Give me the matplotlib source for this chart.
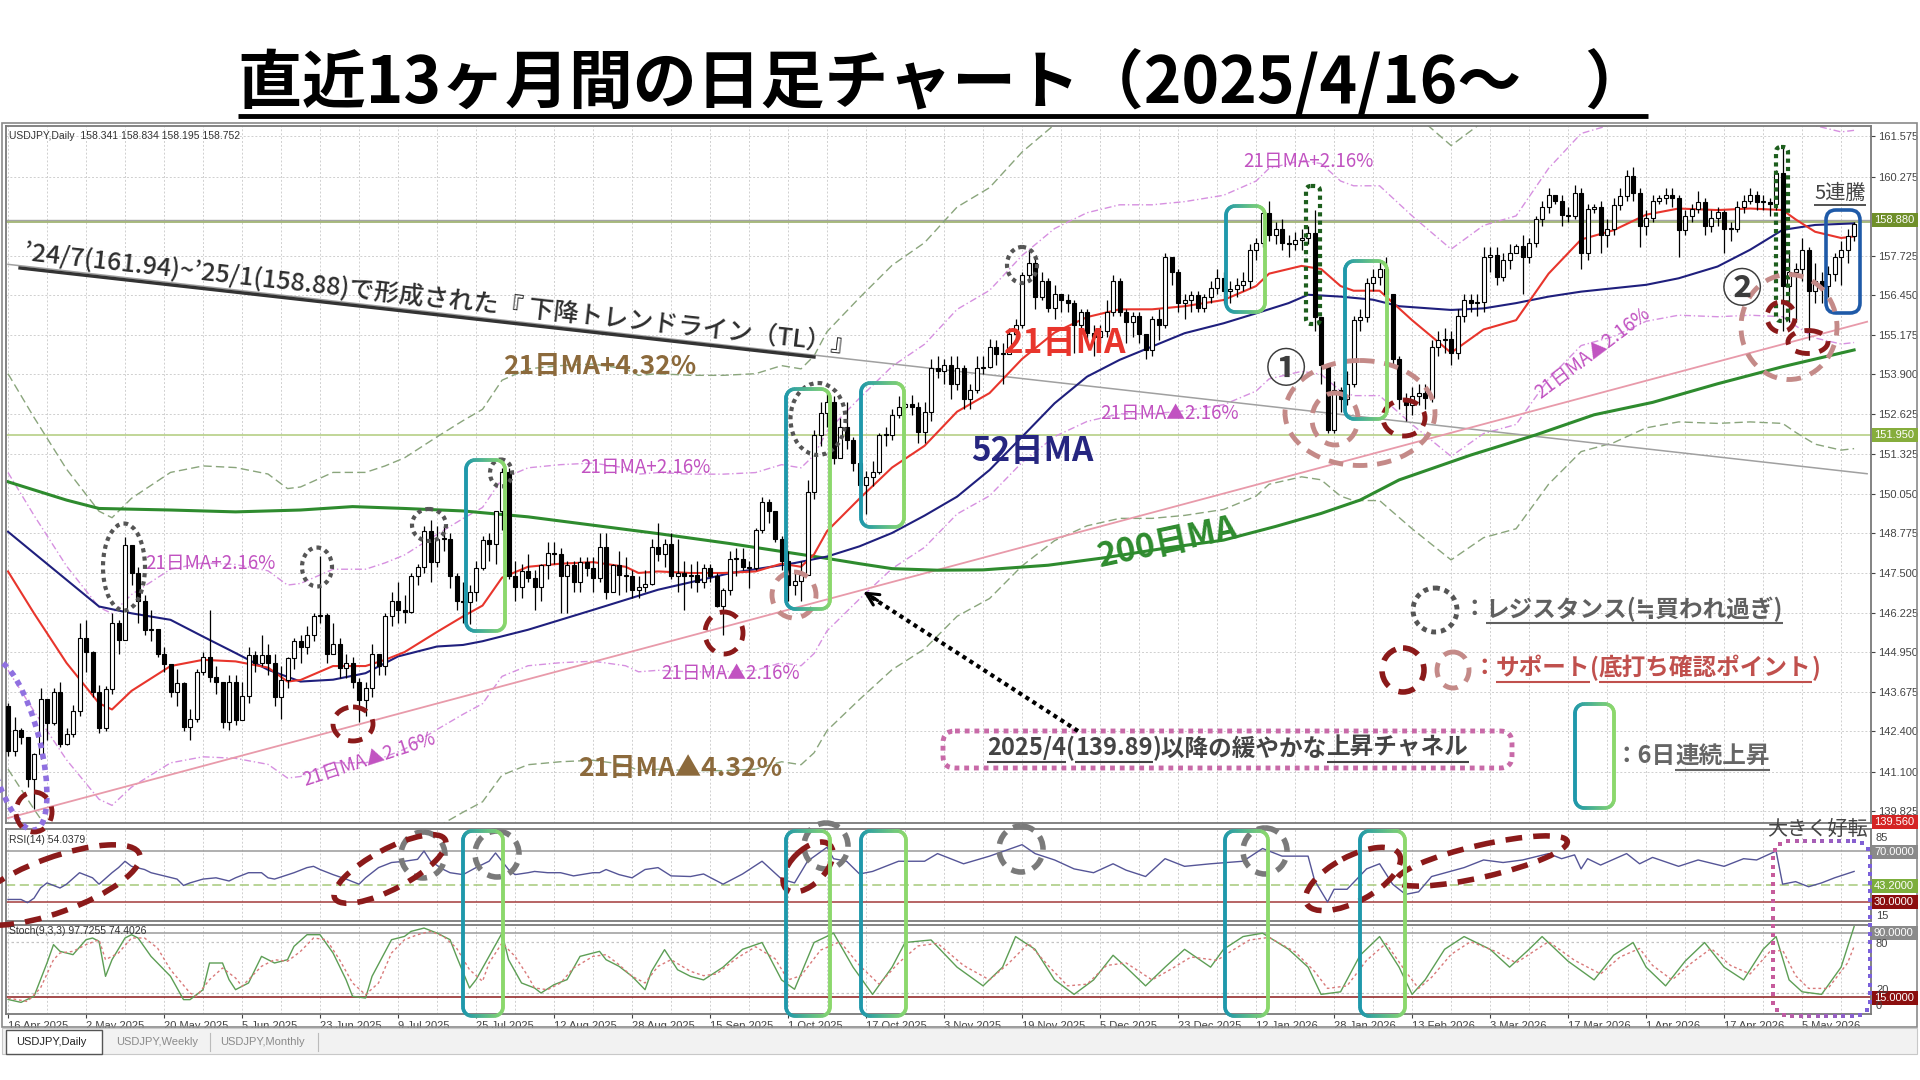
import numpy as np
import matplotlib
matplotlib.use("Agg")
import matplotlib.pyplot as plt
from matplotlib.patches import Ellipse, FancyBboxPatch, Rectangle
from matplotlib.collections import LineCollection
from matplotlib.colors import to_rgb

plt.rcParams['font.family'] = ['Noto Sans CJK JP', 'DejaVu Sans']

# ---------------- data (USDJPY daily) ----------------
OPEN_FIRST = 143.2
CLOSE = [
    141.75, 142.45, 142.2, 140.85, 141.65, 143.45, 142.65, 143.65, 142.0, 142.3, 143.05, 145.4,
    144.95, 143.65, 142.5, 143.75, 145.9, 145.35, 148.4, 147.5, 146.6, 145.65, 145.7, 144.9,
    144.55, 143.65, 143.95, 142.55, 142.8, 144.3, 144.8, 144.15, 144.0, 142.7, 144.0, 142.75,
    143.55, 144.85, 144.6, 144.85, 144.6, 143.5, 144.05, 144.75, 145.3, 145.1, 145.5, 146.1,
    146.15, 144.9, 145.2, 144.45, 144.6, 144.0, 143.4, 143.8, 144.9, 144.5, 146.1, 146.6,
    146.3, 146.25, 147.4, 147.7, 148.85, 147.85, 148.6, 148.6, 147.4, 146.6, 146.55, 146.9,
    147.65, 148.55, 148.45, 149.5, 150.75, 147.4, 147.05, 147.55, 147.35, 147.05, 147.75, 148.15,
    148.1, 147.4, 147.75, 147.2, 147.85, 147.65, 147.35, 148.35, 146.9, 147.75, 147.45, 147.4,
    146.95, 147.05, 147.15, 148.35, 148.1, 148.45, 147.4, 147.5, 147.4, 147.45, 147.2, 147.65,
    147.4, 146.45, 146.95, 147.95, 147.95, 147.7, 147.65, 148.9, 149.8, 149.5, 148.6, 147.9,
    147.1, 147.25, 147.45, 150.1, 151.95, 152.65, 153.0, 151.2, 152.2, 151.8, 151.05, 150.35,
    150.6, 150.75, 151.95, 151.95, 152.6, 152.85, 152.95, 152.85, 152.05, 152.7, 154.1, 154.0,
    154.2, 153.6, 154.1, 153.1, 153.4, 154.1, 154.15, 154.8, 154.55, 154.55, 155.2, 155.5,
    157.1, 157.5, 156.4, 156.9, 156.05, 156.5, 156.3, 156.2, 155.5, 155.9, 155.25, 155.1,
    155.3, 155.9, 156.9, 155.9, 155.6, 155.8, 155.2, 154.7, 155.7, 155.5, 157.7, 157.2,
    156.2, 156.3, 156.45, 156.05, 156.4, 156.7, 157.0, 156.6, 156.65, 156.8, 156.9, 157.9,
    158.15, 159.1, 158.4, 158.6, 158.15, 158.1, 158.25, 158.3, 158.45, 155.75, 154.2, 152.1,
    153.4, 153.1, 153.6, 155.65, 155.75, 156.85, 157.05, 157.3, 156.5, 154.4, 153.1, 152.9,
    153.2, 153.3, 153.15, 154.8, 155.0, 155.05, 154.6, 155.8, 156.3, 156.2, 156.25, 157.7,
    157.75, 157.05, 157.6, 157.8, 158.05, 157.7, 158.15, 158.9, 159.3, 159.7, 159.5, 159.05,
    159.0, 159.75, 157.8, 159.25, 159.3, 158.4, 158.6, 159.35, 159.65, 160.3, 159.75, 158.7,
    158.95, 159.5, 159.6, 159.7, 159.6, 158.55, 159.0, 159.25, 159.45, 158.7, 158.95, 159.15,
    158.6, 158.6, 159.3, 159.5, 159.7, 159.45, 159.45, 159.4, 160.4, 156.75, 157.2, 157.3,
    157.9, 156.6, 156.9, 156.75, 157.15, 157.7, 157.9, 158.35, 158.75,
]
HIGH = [
    143.3, 142.85, 142.5, 142.2, 141.7, 143.8, 143.4, 143.8, 144.0, 142.5, 143.25, 145.9,
    146.0, 145.0, 143.9, 143.85, 146.2, 146.0, 148.65, 148.3, 147.7, 146.8, 146.3, 145.6,
    145.1, 144.5, 144.4, 144.0, 143.1, 144.4, 144.95, 146.3, 144.5, 143.9, 144.2, 144.2,
    144.0, 145.1, 145.0, 145.5, 145.2, 144.9, 144.5, 144.8, 145.4, 145.5, 145.8, 146.2,
    148.05, 146.2, 145.9, 145.4, 144.9, 144.8, 144.1, 144.0, 145.2, 144.9, 146.2, 146.9,
    147.2, 146.8, 147.5, 147.8, 149.0, 149.2, 149.0, 149.0, 148.8, 147.5, 147.2, 147.1,
    147.9, 148.7, 148.8, 149.5, 150.9, 150.9, 147.9, 147.8, 148.1, 147.6, 147.8, 148.5,
    148.5, 148.3, 147.9, 147.9, 148.0, 148.0, 148.0, 148.8, 148.8, 147.8, 148.2, 148.0,
    147.6, 147.4, 147.6, 148.6, 149.1, 148.6, 148.8, 148.6, 147.9, 147.8, 147.9, 147.8,
    147.8, 147.5, 147.0, 148.2, 148.3, 148.3, 147.9, 148.95, 149.95, 149.9, 149.5, 148.7,
    148.2, 147.6, 147.9, 150.5, 152.1, 153.0, 153.3, 153.2, 152.5, 153.0, 151.9, 151.2,
    150.8, 151.1, 152.0, 152.2, 152.8, 153.2, 153.0, 153.25, 153.0, 153.0, 154.4, 154.5,
    154.4, 154.5, 154.5, 154.2, 153.6, 154.5, 154.5, 155.05, 155.0, 154.9, 155.4, 155.7,
    157.2, 157.9, 157.7, 157.2, 157.0, 156.8, 156.5, 156.5, 156.3, 156.0, 156.0, 155.5,
    155.5, 156.3, 157.1, 157.0, 156.0, 155.9, 155.9, 155.2, 155.8, 156.0, 157.8, 157.7,
    157.3, 156.5, 156.6, 156.6, 156.5, 156.9, 157.3, 157.2, 156.9, 157.0, 157.2, 158.1,
    158.3, 159.2, 159.5, 158.8, 158.9, 158.4, 158.5, 158.6, 158.7, 159.2, 155.0, 154.2,
    153.7, 153.5, 154.0, 155.8, 156.0, 157.0, 157.3, 157.6, 157.7, 156.5, 154.5, 153.3,
    153.5, 153.6, 153.6, 155.0, 155.3, 155.4, 155.3, 156.0, 156.5, 156.5, 156.5, 158.0,
    158.0, 158.0, 157.8, 158.1, 158.1, 158.4, 158.3, 159.0, 159.5, 159.9, 159.7, 159.7,
    159.3, 160.0, 159.9, 159.4, 159.4, 159.5, 158.9, 159.6, 159.9, 160.5, 160.6, 159.9,
    159.2, 159.7, 159.7, 159.9, 159.9, 159.7, 159.2, 159.4, 159.8, 159.6, 159.2, 159.3,
    159.2, 158.8, 159.5, 159.7, 159.9, 159.8, 159.7, 159.6, 160.5, 161.25, 157.9, 157.5,
    158.3, 158.0, 157.5, 157.2, 157.4, 157.8, 158.2, 158.6, 158.83,
]
LOW = [
    141.6, 141.6, 142.0, 140.6, 139.9, 141.5, 142.1, 142.6, 141.9, 141.95, 142.2, 142.9,
    144.3, 143.5, 142.35, 142.4, 143.6, 144.9, 145.4, 147.1, 145.9, 145.5, 145.3, 144.8,
    144.3, 143.5, 143.2, 142.4, 142.1, 142.7, 144.2, 144.0, 143.6, 142.5, 142.45, 142.6,
    142.85, 143.3, 144.3, 144.5, 144.2, 143.2, 142.8, 143.8, 144.4, 144.6, 144.9, 145.3,
    145.9, 144.6, 144.9, 144.1, 144.1, 143.8, 142.7, 142.9, 143.5, 144.2, 144.2, 145.8,
    145.9, 145.9, 146.2, 147.1, 147.5, 147.2, 147.7, 148.2, 147.0, 146.3, 145.9, 145.85,
    146.6, 147.6, 147.9, 147.8, 148.9, 147.3, 146.6, 146.7, 147.2, 146.3, 146.6, 147.3,
    147.8, 146.2, 146.2, 146.9, 146.9, 147.4, 146.9, 147.2, 146.65, 146.9, 146.8, 146.9,
    146.7, 146.7, 146.9, 147.1, 147.9, 147.7, 147.3, 146.9, 146.3, 147.0, 146.9, 147.0,
    147.2, 146.4, 145.5, 146.8, 147.4, 147.6, 147.0, 147.6, 148.8, 149.1, 148.5, 147.6,
    146.6, 146.8, 146.6, 149.0, 149.9, 151.6, 152.2, 151.0, 151.5, 151.5, 150.8, 150.3,
    149.4, 150.3, 150.7, 151.6, 151.8, 152.5, 152.8, 152.6, 151.7, 151.7, 152.4, 153.8,
    153.6, 153.1, 153.4, 152.8, 152.8, 153.3, 153.9, 154.1, 154.2, 153.6, 154.6, 154.9,
    155.4, 156.9, 156.0, 156.3, 155.9, 155.7, 155.9, 155.9, 154.6, 155.2, 155.0, 154.5,
    154.9, 155.1, 155.8, 155.8, 154.9, 155.1, 154.9, 154.4, 154.5, 155.0, 155.4, 156.8,
    155.9, 155.7, 155.9, 155.9, 155.9, 156.2, 156.5, 156.2, 156.2, 156.4, 156.6, 156.7,
    157.6, 158.0, 158.2, 158.1, 157.9, 157.7, 157.9, 157.9, 158.1, 155.3, 153.6, 152.0,
    152.0, 152.7, 152.9, 153.5, 155.3, 155.6, 156.6, 156.8, 156.3, 154.2, 152.8, 152.4,
    152.6, 152.9, 152.8, 153.0, 154.5, 154.6, 154.2, 154.4, 155.6, 155.9, 155.8, 155.9,
    157.2, 156.8, 156.9, 157.3, 157.9, 156.5, 157.5, 158.0, 158.7, 159.1, 159.4, 158.7,
    158.8, 158.9, 157.3, 157.6, 159.1, 157.8, 158.0, 158.4, 159.2, 159.5, 159.5, 158.0,
    158.4, 158.8, 159.4, 159.4, 159.3, 157.7, 158.4, 158.8, 159.1, 158.4, 158.5, 158.7,
    157.8, 158.2, 158.5, 159.1, 159.4, 159.2, 159.2, 159.0, 159.2, 155.3, 155.6, 155.6,
    156.9, 155.0, 156.2, 156.2, 156.4, 156.9, 156.8, 157.5, 158.2,
]

# moving averages (bar index, price)
MA21_X = [0, 4, 9, 14, 16, 19, 25, 30, 35, 40, 43, 45, 50, 55, 58, 61, 66, 70, 73, 76, 80, 85, 90,
          95, 97, 100, 105, 110, 115, 119, 122, 124, 126, 131, 136, 141, 146, 151, 156, 161, 166,
          171, 176, 181, 187, 192, 194, 199, 202, 205, 207, 211, 216, 222, 227, 232, 237, 242,
          247, 252, 257, 263, 268, 273, 275, 278, 282, 284]
MA21_Y = [147.55, 146.2, 144.6, 143.3, 143.1, 143.7, 144.5, 144.7, 144.65, 144.45, 144.0, 144.05,
          144.5, 144.5, 144.7, 144.95, 145.6, 146.1, 146.45, 147.35, 147.7, 147.8, 147.85, 147.7,
          147.5, 147.55, 147.5, 147.5, 147.55, 147.8, 147.7, 148.1, 148.85, 149.9, 150.9, 151.6,
          152.7, 153.3, 154.4, 155.25, 155.75, 156.0, 156.0, 156.1, 156.3, 156.75, 157.15, 157.4,
          157.3, 156.75, 156.6, 156.6, 155.65, 154.6, 155.35, 155.65, 157.15, 158.25, 158.55,
          159.05, 159.25, 159.2, 159.25, 159.2, 158.9, 158.5, 158.3, 158.35]
MA52_X = [0, 4, 9, 14, 19, 25, 30, 35, 40, 45, 50, 55, 60, 66, 70, 73, 80, 90, 100, 111, 121, 126,
          131, 136, 141, 146, 151, 156, 161, 166, 171, 176, 181, 187, 192, 197, 200, 205, 210, 214,
          222, 227, 232, 237, 242, 247, 252, 257, 263, 268, 273, 278, 284]
MA52_Y = [148.83, 148.14, 147.28, 146.42, 146.2, 145.99, 145.45, 144.92, 144.38, 144.0, 144.06,
          144.27, 144.81, 145.13, 145.18, 145.3, 145.67, 146.31, 146.96, 147.49, 147.82, 148.03,
          148.36, 148.79, 149.35, 149.96, 150.82, 151.89, 152.97, 153.83, 154.37, 154.8, 155.23,
          155.55, 155.87, 156.2, 156.47, 156.41, 156.31, 156.1, 155.98, 156.03, 156.2, 156.41,
          156.57, 156.68, 156.79, 157.0, 157.38, 157.92, 158.56, 158.72, 158.77]
MA200_X = [0, 9, 14, 25, 35, 45, 53, 61, 70, 80, 90, 100, 111, 121, 126, 131, 136, 143, 150, 160,
           169, 178, 187, 195, 202, 208, 214, 225, 235, 244, 253, 263, 273, 284]
MA200_Y = [150.44, 149.85, 149.58, 149.53, 149.47, 149.53, 149.64, 149.58, 149.5, 149.31, 149.04,
           148.77, 148.45, 148.13, 147.97, 147.8, 147.64, 147.59, 147.6, 147.75, 148.0, 148.3,
           148.56, 149.0, 149.42, 149.85, 150.5, 151.3, 151.95, 152.6, 153.0, 153.6, 154.15,
           154.69]
BAND_PCT = [0.0216, 0.0432]

# trend lines and horizontal levels
TL_X, TL_Y = [0, 286], [157.45, 150.7]
CH_X, CH_Y = [0, 286], [139.6, 155.6]
LEVELS = [158.88, 151.95]

# RSI(14)
RSI_X = [0, 2, 3, 4, 5, 6, 8, 9, 11, 13, 14, 16, 17, 18, 19, 21, 22, 24, 26, 27, 28, 30, 32, 34,
         35, 37, 39, 40, 41, 44, 46, 47, 48, 50, 52, 54, 55, 57, 59, 61, 63, 64, 65, 67, 68, 70,
         72, 74, 75, 77, 78, 80, 81, 83, 85, 87, 90, 91, 92, 94, 96, 98, 100, 102, 105, 107, 110,
         113, 116, 119, 121, 123, 126, 127, 129, 131, 133, 137, 141, 143, 147, 151, 156, 158, 161,
         164, 167, 170, 172, 175, 178, 181, 185, 190, 193, 196, 200, 201, 203, 204, 206, 209, 211,
         213, 215, 217, 219, 224, 227, 230, 233, 237, 239, 241, 242, 243, 245, 249, 251, 253, 257,
         260, 264, 267, 269, 272, 273, 275, 277, 279, 281, 284]
RSI_V = [32, 32, 29.5, 33, 41, 45, 41, 44, 53, 49, 44, 53, 57, 62, 58, 55.5, 53, 50.5, 48, 43, 45,
         48, 49, 46.5, 49, 53, 53, 49, 48, 53, 57, 58, 55.5, 51.5, 48, 44, 49, 57, 61, 62, 63.5, 70,
         62, 55.5, 53, 51.5, 57, 62, 68.5, 55.5, 51.5, 53, 54, 53, 53, 50.5, 53, 53, 55.5, 51.5, 49,
         55.5, 57, 50.5, 50, 52, 44, 52, 62, 48, 45, 62, 73, 64, 62, 52, 54, 62, 62, 68, 60, 66, 75,
         68, 63, 56, 53, 60, 55, 50, 64, 58, 60, 62, 72, 66, 66, 47, 30, 40, 40, 56, 60, 44, 36, 38,
         50, 57, 63, 61, 63, 68, 64, 67, 56, 64, 59, 68, 60, 65, 58, 63, 58, 64, 63, 70, 44, 46, 42,
         45, 49, 54]
RSI_LEVELS = [70, 43.2, 30]

# Stochastic(9,3,3): main and signal
STO_X = [0, 2, 4, 6, 7, 8, 10, 12, 13, 14, 15, 16, 18, 19, 20, 22, 25, 27, 28, 30, 31, 33, 34, 35,
         37, 39, 41, 43, 44, 46, 48, 50, 52, 53, 55, 56, 59, 61, 62, 64, 66, 68, 69, 71, 72, 74, 76,
         77, 79, 81, 82, 84, 86, 88, 91, 92, 94, 96, 98, 99, 101, 103, 105, 107, 110, 113, 116, 119,
         121, 124, 127, 130, 133, 136, 138, 142, 146, 150, 153, 155, 158, 161, 164, 167, 170, 172,
         175, 178, 181, 185, 187, 190, 193, 197, 200, 202, 205, 208, 211, 214, 216, 218, 221, 224,
         228, 231, 234, 236, 240, 244, 247, 250, 252, 255, 258, 261, 264, 267, 270, 272, 274, 276,
         279, 282, 284]
STO_V = [12, 8.6, 15.7, 55, 76.5, 68.6, 64.7, 82.3, 84.3, 80.4, 39.2, 58.8, 84.3, 88.2, 84.3, 62.7,
         39.2, 11.8, 11.8, 23.5, 54.9, 54.9, 35.3, 23.5, 31.4, 62.7, 54.9, 58.8, 74.5, 88.2, 88.2,
         66.7, 35.3, 15.7, 13.7, 39.2, 82.3, 86.2, 92.1, 96, 90.1, 82.3, 62.7, 25.5, 35.3, 62.7,
         90.1, 58.8, 31.4, 25.5, 19.6, 29.4, 35.3, 62.7, 68.6, 58.8, 51, 39.2, 23.5, 45.1, 70.6, 47,
         39.2, 35, 50, 71, 79, 35, 24, 79, 90, 50, 18, 50, 79, 82, 50, 28, 50, 86, 71, 35, 18, 35,
         64, 50, 28, 50, 71, 50, 71, 86, 90, 71, 50, 18, 21, 64, 86, 50, 18, 35, 71, 86, 71, 50, 71,
         86, 57, 35, 64, 79, 50, 28, 57, 79, 50, 35, 71, 86, 35, 21, 18, 50, 97.7]
SIG_X = [0, 3, 5, 7, 8, 10, 12, 14, 15, 17, 19, 21, 23, 25, 28, 29, 31, 33, 35, 36, 39, 41, 43, 45,
         47, 49, 51, 53, 55, 57, 59, 61, 63, 65, 67, 69, 71, 73, 74, 76, 78, 80, 81, 83, 85, 87, 90,
         92, 94, 96, 98, 100, 102, 105, 107, 109, 112, 115, 118, 120, 122, 125, 128, 131, 134, 137,
         140, 143, 147, 151, 154, 157, 160, 163, 166, 169, 172, 176, 179, 182, 186, 188, 191, 194,
         198, 201, 203, 206, 209, 212, 215, 217, 219, 222, 225, 229, 232, 235, 237, 241, 245, 248,
         251, 253, 256, 259, 262, 265, 268, 271, 273, 275, 277, 280, 283, 284]
SIG_V = [13.7, 9.6, 25.5, 58.8, 66.7, 68.6, 76.5, 82.3, 58.8, 66.7, 84.3, 84.3, 72.5, 47, 19.6,
         15.7, 35.3, 49, 37.3, 27.5, 51, 58.8, 56.9, 68.6, 84.3, 82.3, 58.8, 31.4, 17.6, 31.4, 66.7,
         82.3, 88.2, 92.1, 86.2, 72.5, 47, 33.3, 54.9, 78.4, 62.7, 39.2, 25.5, 23.5, 31.4, 49, 62.7,
         64.7, 52.9, 39.2, 31.4, 51, 58.8, 45.1, 40, 42, 60, 74, 60, 35, 40, 70, 80, 52, 30, 55, 75,
         78, 52, 35, 55, 78, 52, 28, 30, 52, 55, 35, 48, 62, 58, 68, 82, 85, 68, 45, 25, 28, 58, 78,
         45, 25, 38, 65, 80, 68, 55, 70, 80, 58, 42, 62, 72, 52, 35, 55, 72, 52, 42, 68, 70, 40, 25,
         25, 55, 74.4]
STO_LEVELS = [90, 80, 20, 15]

PRICE_TICKS = [161.575, 160.275, 157.725, 156.450, 155.175, 153.900, 152.625, 151.325, 150.050,
               148.775, 147.500, 146.225, 144.950, 143.675, 142.400, 141.100, 139.825]
DATE_LABELS = ["16 Apr 2025", "2 May 2025", "20 May 2025", "5 Jun 2025", "23 Jun 2025",
               "9 Jul 2025", "25 Jul 2025", "12 Aug 2025", "28 Aug 2025", "15 Sep 2025",
               "1 Oct 2025", "17 Oct 2025", "3 Nov 2025", "19 Nov 2025", "5 Dec 2025",
               "23 Dec 2025", "12 Jan 2026", "28 Jan 2026", "13 Feb 2026", "3 Mar 2026",
               "17 Mar 2026", "1 Apr 2026", "17 Apr 2026", "5 May 2026"]
DATE_STEP = 12

TITLE = "直近13ヶ月間の日足チャート（2025/4/16～　）"

# ---------------- figure ----------------
W, H = 1920, 1080
fig = plt.figure(figsize=(19.2, 10.8), dpi=100)
fig.patch.set_facecolor("white")
AXIS_FONT = "Liberation Sans"
GRID_KW = dict(color="#cfcfcf", lw=0.7, ls=(0, (2, 2)), zorder=0)


def panel(top, bottom, sharex=None):
    a = fig.add_axes([6 / W, 1 - bottom / H, 1865 / W, (bottom - top) / H], sharex=sharex)
    for s in a.spines.values():
        s.set_color("#7a7a7a")
        s.set_linewidth(1.3)
    return a


ax = panel(126, 823)
rsi_ax = panel(829, 921, sharex=ax)
sto_ax = panel(925, 1014, sharex=ax)
ax.set_xlim(-0.31, 286.6)
ax.set_ylim(139.44, 161.91)
rsi_ax.set_ylim(15.1, 87.3)
sto_ax.set_ylim(-5.1, 99.6)

for a in (ax, rsi_ax, sto_ax):
    for gx in range(0, 287, 6):
        a.axvline(gx, **GRID_KW)
    a.tick_params(axis="x", bottom=False, labelbottom=False)
    a.tick_params(axis="y", left=False, labelleft=False, right=False)

# main price panel
for gy in PRICE_TICKS:
    ax.axhline(gy, **GRID_KW)
ax.yaxis.tick_right()
ax.set_yticks(PRICE_TICKS)
ax.set_yticklabels([f"{v:.3f}" for v in PRICE_TICKS], fontfamily=AXIS_FONT)
ax.tick_params(axis="y", right=True, labelright=True, length=3, labelsize=8, pad=2,
               colors="#444444")

ax.axhline(LEVELS[0], color="#a4a4a4", lw=1.0, zorder=1)
ax.axhline(LEVELS[0] - 0.06, color="#9aae68", lw=1.2, zorder=1)
ax.axhline(LEVELS[1], color="#b6cf86", lw=1.2, zorder=1)
ax.plot(TL_X, TL_Y, color="#a0a0a0", lw=1.1, zorder=2)
ax.plot(CH_X, CH_Y, color="#e89aaa", lw=1.3, zorder=2)

ma21 = np.array(MA21_Y)
for pct in (BAND_PCT[0], -BAND_PCT[0]):
    ax.plot(MA21_X, ma21 * (1 + pct), color="#d690e0", lw=1.0, ls=(0, (5, 2, 1, 2)), zorder=1)
for pct in (BAND_PCT[1], -BAND_PCT[1]):
    ax.plot(MA21_X, ma21 * (1 + pct), color="#8aa57c", lw=1.0, ls=(0, (6, 3)), zorder=1)
ax.plot(MA200_X, MA200_Y, color="#2e8b2e", lw=2.2, zorder=2)
ax.plot(MA52_X, MA52_Y, color="#1f1f7d", lw=1.5, zorder=2)
ax.plot(MA21_X, MA21_Y, color="#e8352c", lw=1.5, zorder=2)

x = np.arange(len(CLOSE))
c = np.array(CLOSE)
o = np.r_[OPEN_FIRST, c[:-1]]
hi = np.maximum(np.array(HIGH), np.maximum(o, c))
lo = np.minimum(np.array(LOW), np.minimum(o, c))
up = c >= o
ax.vlines(x, lo, hi, color="black", lw=0.9, zorder=3)
body_lo = np.minimum(o, c)
body_h = np.maximum(np.abs(c - o), 0.035)
ax.bar(x[up], body_h[up], bottom=body_lo[up], width=0.62, color="white", edgecolor="black",
       lw=0.8, zorder=4)
ax.bar(x[~up], body_h[~up], bottom=body_lo[~up], width=0.62, color="black", edgecolor="black",
       lw=0.8, zorder=4)

# RSI panel
rsi_ax.axhline(RSI_LEVELS[0], color="#9a9a9a", lw=1.1)
rsi_ax.axhline(RSI_LEVELS[1], color="#a6c97a", lw=1.1, ls=(0, (6, 3)))
rsi_ax.axhline(RSI_LEVELS[2], color="#a33a3a", lw=1.1)
rsi_ax.plot(RSI_X, RSI_V, color="#555597", lw=1.0, zorder=3)

# Stochastic panel
sto_ax.axhline(STO_LEVELS[0], color="#9a9a9a", lw=1.1)
sto_ax.axhline(STO_LEVELS[1], color="#c4c4c4", lw=0.9, ls=(0, (2, 2)))
sto_ax.axhline(STO_LEVELS[2], color="#c4c4c4", lw=0.9, ls=(0, (2, 2)))
sto_ax.axhline(STO_LEVELS[3], color="#8b1a1a", lw=1.1)
sto_ax.plot(STO_X, STO_V, color="#5d9e55", lw=1.0, zorder=3)
sto_ax.plot(SIG_X, SIG_V, color="#d97a7a", lw=1.0, ls=(0, (2, 2)), zorder=3)

pos = np.arange(len(DATE_LABELS)) * DATE_STEP
sto_ax.set_xticks(pos)
sto_ax.set_xticklabels(DATE_LABELS, ha="left", fontfamily=AXIS_FONT)
sto_ax.tick_params(axis="x", bottom=True, labelbottom=True, length=3, labelsize=8, pad=2,
                   colors="#444444")

# ---------------- overlay in pixel coordinates ----------------
ov = fig.add_axes([0, 0, 1, 1])
ov.set_xlim(0, W)
ov.set_ylim(H, 0)
ov.axis("off")
renderer = fig.canvas.get_renderer()


def blend(c0, c1, t):
    a, b = np.array(to_rgb(c0)), np.array(to_rgb(c1))
    return tuple(a + (b - a) * np.clip(t, 0, 1))


def rounded_pts(x0, y0, x1, y1, r, step=2.0):
    corners = [(x1 - r, y0 + r, -90, 0), (x1 - r, y1 - r, 0, 90),
               (x0 + r, y1 - r, 90, 180), (x0 + r, y0 + r, 180, 270)]
    pts = []
    for cx, cy, a0, a1 in corners:
        ang = np.radians(np.linspace(a0, a1, 10))
        pts.extend(zip(cx + r * np.cos(ang), cy + r * np.sin(ang)))
    pts.append(pts[0])
    pts = np.array(pts)
    d = np.r_[0, np.cumsum(np.hypot(*np.diff(pts, axis=0).T))]
    s = np.arange(0, d[-1], step)
    return np.c_[np.interp(s, d, pts[:, 0]), np.interp(s, d, pts[:, 1])]


def grad_box(x0, y0, x1, y1, c0="#1f98ab", c1="#8cd86c", lw=2.6, r=9):
    p = rounded_pts(x0, y0, x1, y1, r)
    segs = np.stack([p[:-1], p[1:]], axis=1)
    t = (segs[:, :, 0].mean(axis=1) - x0) / (x1 - x0)
    ov.add_collection(LineCollection(segs, colors=[blend(c0, c1, v) for v in t],
                                     linewidths=lw, capstyle="round"))


def dotted_box(x0, y0, x1, y1, c0, c1, r=12, step=8.5, s=9):
    p = rounded_pts(x0, y0, x1, y1, r, step=step)
    t = (p[:, 0] - x0) / (x1 - x0)
    ov.scatter(p[:, 0], p[:, 1], s=s, marker="s", c=[blend(c0, c1, v) for v in t], lw=0)


def ring(cx, cy, w, h, color, lw=3.5, ls=(0, (3, 2)), angle=0):
    ov.add_patch(Ellipse((cx, cy), w, h, angle=angle, fill=False, ec=color, lw=lw, ls=ls))


def rich_text(x, y, pieces, size, weight="normal", ha="left", ul_lw=1.5, ul_off=0.58):
    arts = []
    for s, ul, col in pieces:
        t = ov.text(0, y, s, fontsize=size, fontweight=weight, color=col, va="center", ha="left")
        arts.append((t, ul, col, t.get_window_extent(renderer).width))
    total = sum(a[3] for a in arts)
    cur = x - total / 2 if ha == "center" else x
    yy = y + ul_off * size * 100 / 72
    for t, ul, col, w in arts:
        t.set_x(cur)
        if ul:
            ov.plot([cur, cur + w], [yy, yy], color=col, lw=ul_lw, solid_capstyle="butt")
        cur += w


# window frame and tab strip
ov.add_patch(Rectangle((2, 123), 1915, 904, fill=False, ec="#8a8a8a", lw=1.2))
ov.add_patch(Rectangle((2, 1028), 1915, 26, fc="#f2f2f2", ec="#c8c8c8", lw=0.8))
ov.add_patch(Rectangle((6, 1030), 96, 24, fc="white", ec="#555555", lw=1.0))
for tx, lab, col in [(16, "USDJPY,Daily", "#222222"), (116, "USDJPY,Weekly", "#8a8a8a"),
                     (220, "USDJPY,Monthly", "#8a8a8a")]:
    ov.text(tx, 1042, lab, fontsize=8, color=col, va="center", fontfamily=AXIS_FONT)
for sx in (210, 318):
    ov.plot([sx, sx], [1033, 1051], color="#bbbbbb", lw=0.8)

# panel captions and right-side value boxes
ov.text(9, 136, "USDJPY,Daily  158.341 158.834 158.195 158.752", fontsize=7.5, color="#333333",
        va="center", fontfamily=AXIS_FONT)
ov.text(9, 840, "RSI(14) 54.0379", fontsize=7.5, color="#333333", va="center",
        fontfamily=AXIS_FONT)
ov.text(9, 931, "Stoch(9,3,3) 97.7255 74.4026", fontsize=7.5, color="#333333", va="center",
        fontfamily=AXIS_FONT)
for lab, yy in [("85", 838), ("15", 916), ("80", 944), ("20", 990), ("0", 1006)]:
    ov.text(1876, yy, lab, fontsize=8, color="#444444", va="center", fontfamily=AXIS_FONT)
for lab, yy, fc in [("158.880", 220, "#6f8f2a"), ("151.950", 435, "#86ad3c"),
                    ("139.560", 822, "#d42424"), ("70.0000", 852, "#8a8a8a"),
                    ("43.2000", 886, "#7cae3c"), ("30.0000", 902, "#8b0f0f"),
                    ("90.0000", 933, "#8a8a8a"), ("15.0000", 998, "#8b0f0f")]:
    ov.add_patch(Rectangle((1872, yy - 7), 46, 14, fc=fc, ec="none"))
    ov.text(1874, yy, lab, fontsize=8, color="white", va="center", fontfamily=AXIS_FONT)

# title
rich_text(943, 84, [(TITLE, True, "black")], 46, weight="bold", ha="center", ul_lw=3.5,
          ul_off=0.5)

# descending trend line caption
ov.text(24, 260, "’24/7(161.94)~’25/1(158.88)で形成された『 下降トレンドライン（TL）』",
        fontsize=18, color="#2e2e2e", fontweight="medium", rotation=-6.4,
        rotation_mode="anchor", ha="left", va="baseline")
ov.plot([20, 814], [268, 357], color="#333333", lw=2.4)

# 6-day rise boxes
for bx in [(466, 460, 505, 631), (786, 389, 830, 609), (861, 383, 904, 527),
           (1226, 206, 1265, 312), (1345, 261, 1387, 419), (463, 831, 503, 1016),
           (786, 831, 830, 1016), (861, 831, 906, 1016), (1225, 831, 1268, 1016),
           (1360, 831, 1405, 1016), (1575, 704, 1614, 808)]:
    grad_box(*bx)
ov.add_patch(FancyBboxPatch((1826, 210), 34, 103, boxstyle="round,pad=0,rounding_size=10",
                            fill=False, ec="#1f5aa8", lw=2.6))
for rx0, ry0, rx1, ry1 in [(1306, 186, 1320, 324), (1776, 147, 1788, 321)]:
    ov.add_patch(FancyBboxPatch((rx0, ry0), rx1 - rx0, ry1 - ry0,
                                boxstyle="round,pad=0,rounding_size=5", fill=False,
                                ec="#1d5e1d", lw=3, ls=(0, (1, 1))))
dotted_box(1773, 841, 1870, 1016, "#c65c9c", "#7a60da", r=16)
ov.add_patch(Ellipse((14, 745), 52, 175, angle=-14, fill=False, ec="#8f70e0", lw=4,
                     ls=(0, (1, 1))))

# resistance (grey dotted) and support (red dashed) marks
GREY = "#555555"
for cx, cy, w, h in [(124, 567, 42, 87), (317, 567, 30, 39), (429, 525, 34, 32),
                     (501, 473, 22, 27), (818, 419, 55, 72), (1022, 265, 30, 36)]:
    ring(cx, cy, w, h, GREY, lw=3, ls=(0, (1, 1)))
for cx, cy in [(423, 855), (497, 854), (826, 846), (1021, 849), (1265, 851)]:
    ring(cx, cy, 44, 46, "#7a7a7a", lw=4, ls=(0, (2.5, 1.5)))
DARK_RED, ROSY = "#8b1a1a", "#c48a88"
for cx, cy, w, h in [(34, 812, 36, 40), (353, 724, 40, 34), (724, 633, 38, 42),
                     (1404, 418, 42, 36), (1781, 317, 28, 30), (1808, 342, 40, 23)]:
    ring(cx, cy, w, h, DARK_RED)
for cx, cy, w, h in [(794, 595, 44, 46), (1360, 413, 150, 105), (1335, 419, 46, 52),
                     (1789, 327, 96, 105)]:
    ring(cx, cy, w, h, ROSY)
for cx, cy, w, h, ang in [(55, 885, 180, 55, 20), (390, 869, 125, 40, 28),
                          (808, 867, 62, 34, 45), (1353, 879, 105, 45, 28),
                          (1482, 861, 175, 32, 13)]:
    ring(cx, cy, w, h, DARK_RED, lw=4, angle=-ang)

# arrow to the channel
ov.plot([1078, 868], [731, 595], color="black", lw=3, ls=(0, (1, 1)))
ov.annotate("", xy=(861, 590), xytext=(880, 602),
            arrowprops=dict(arrowstyle="->", color="black", lw=2.2, mutation_scale=22))

# channel caption
ov.add_patch(FancyBboxPatch((943, 731), 569, 37, boxstyle="round,pad=0,rounding_size=12",
                            fill=False, ec="#c86aa8", lw=3.5, ls=(0, (1, 1))))
rich_text(1228, 748, [("2025/4", True, "#444444"), ("(", False, "#444444"),
                      ("139.89", True, "#444444"), (")以降の緩やかな", False, "#444444"),
                      ("上昇チャネル", True, "#444444")], 17, weight="bold", ha="center")

# indicator labels
BROWN, VIOLET = "#8c6a3c", "#c152c1"
ov.text(600, 367, "21日MA+4.32%", fontsize=19, fontweight="bold", color=BROWN,
        ha="center", va="center")
ov.text(680, 769, "21日MA▲4.32%", fontsize=19, fontweight="bold", color=BROWN,
        ha="center", va="center")
for tx, ty in [(210, 564), (645, 468), (1308, 162)]:
    ov.text(tx, ty, "21日MA+2.16%", fontsize=13.5, color=VIOLET, ha="center", va="center")
for tx, ty, rot in [(731, 673, 0), (1170, 414, 0), (369, 759, 18), (1593, 353, 37)]:
    ov.text(tx, ty, "21日MA▲2.16%", fontsize=13.5, color=VIOLET, ha="center", va="center",
            rotation=rot, rotation_mode="anchor")
ov.text(1065, 344, "21日MA", fontsize=24, fontweight="bold", color="#e8352c", ha="center",
        va="center")
ov.text(1032, 451, "52日MA", fontsize=24, fontweight="bold", color="#262680", ha="center",
        va="center")
ov.text(1168, 543, "200日MA", fontsize=24, fontweight="bold", color="#2e8b2e", ha="center",
        va="center", rotation=12, rotation_mode="anchor")
ov.text(1286, 371, "①", fontsize=29, fontweight="bold", color="#3c3c3c", ha="center",
        va="center")
ov.text(1742, 291, "②", fontsize=29, fontweight="bold", color="#3c3c3c", ha="center",
        va="center")
rich_text(1840, 193, [("5連騰", True, "#444444")], 14.5, ha="center", ul_lw=1.3)
ov.text(1817, 829, "大きく好転", fontsize=14.5, color="#444444", ha="center", va="center")

# legend
ring(1435, 610, 44, 44, GREY, lw=3.5, ls=(0, (1, 1)))
rich_text(1462, 609, [("：", False, "#606060"), ("レジスタンス(≒買われ過ぎ)", True, "#606060")],
          17, weight="bold", ul_lw=1.5)
ring(1403, 670, 42, 44, DARK_RED, lw=4)
ring(1453, 670, 32, 36, ROSY, lw=3.5)
rich_text(1472, 668, [("：", False, "#c0504d"), ("サポート", True, "#c0504d"),
                      ("(", False, "#c0504d"), ("底打ち確認ポイント", True, "#c0504d"),
                      (")", False, "#c0504d")], 17, weight="bold", ul_lw=1.5)
rich_text(1614, 756, [("：6日", False, "#666666"), ("連続上昇", True, "#666666")], 17,
          weight="bold", ul_lw=1.5)

fig.savefig("out.png", dpi=100)
